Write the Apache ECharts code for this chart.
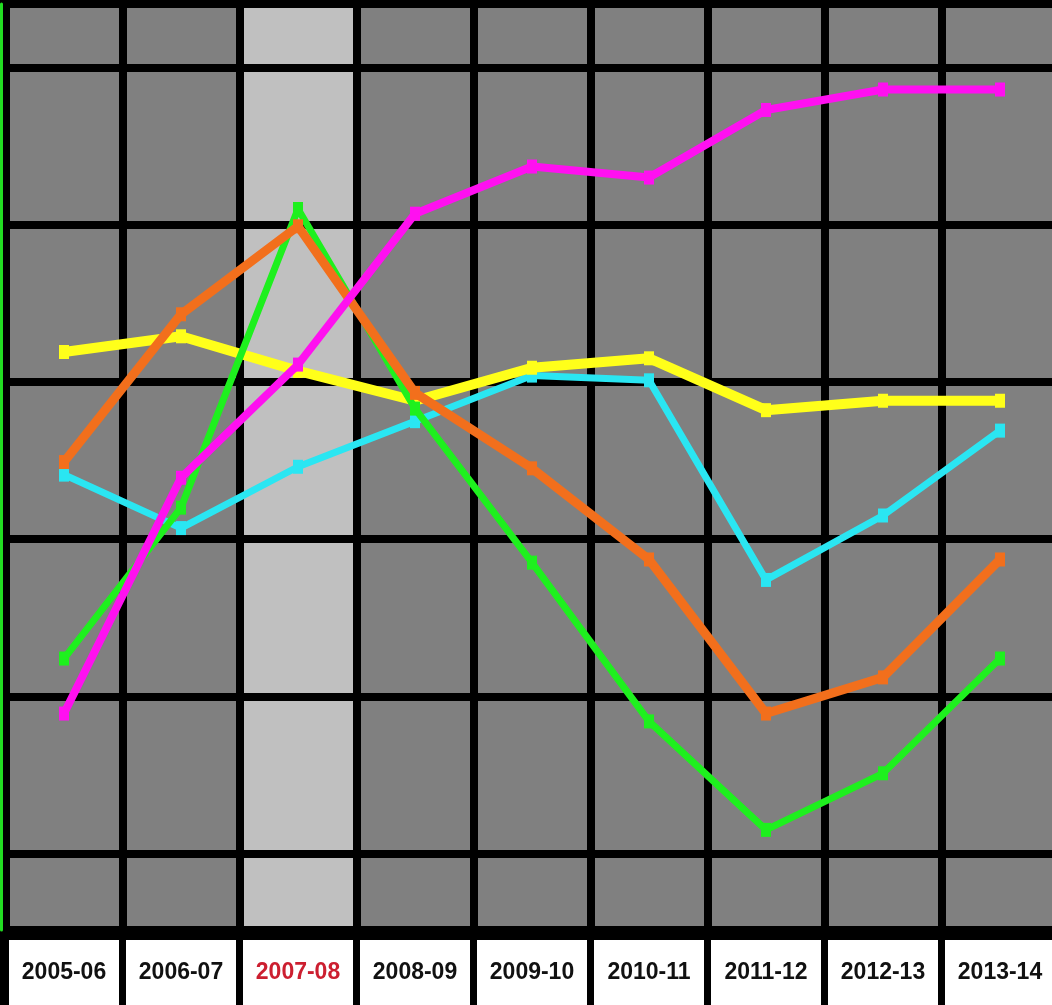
<!DOCTYPE html>
<html>
<head>
<meta charset="utf-8">
<script src="https://cdn.jsdelivr.net/npm/echarts@6/dist/echarts.min.js"></script>
<style>
html,body{margin:0;padding:0;background:#000;overflow:hidden;}
#main{width:1064px;height:1005px;}
</style>
</head>
<body>
<div id="main"></div>
<script>
var categories = ['2005-06','2006-07','2007-08','2008-09','2009-10','2010-11','2011-12','2012-13','2013-14'];
var highlightCategory = '2007-08';
var magentaValues = [8.9, 23.9, 31.1, 40.7, 43.7, 43.0, 47.3, 48.6, 48.6];
var yellowValues  = [31.9, 32.9, 30.7, 28.8, 30.9, 31.5, 28.2, 28.8, 28.8];
var cyanValues    = [24.1, 20.7, 24.6, 27.5, 30.4, 30.1, 17.4, 21.5, 26.9];
var orangeValues  = [24.9, 34.3, 39.9, 29.3, 24.5, 18.7, 8.9, 11.2, 18.7];
var greenValues   = [12.4, 22.0, 41.0, 28.3, 18.5, 8.4, 1.5, 5.1, 12.4];
var yMin = -4.87;
var yMax = 54.04;

var chart = echarts.init(document.getElementById('main'), null, {renderer:'canvas'});

function lineSeries(name, data, color, width, z) {
  return {
    name: name,
    type: 'line',
    data: data,
    z: z,
    symbol: 'rect',
    symbolSize: [10, 14],
    showAllSymbol: true,
    itemStyle: {color: color},
    lineStyle: {color: color, width: width},
    emphasis: {disabled: true},
    animation: false
  };
}

var areaColors = categories.map(function (c) { return c === highlightCategory ? '#c0c0c0' : '#808080'; });

var option = {
  backgroundColor: '#000',
  animation: false,
  grid: {left: 5.5, width: 1053, top: 4, bottom: 75, containLabel: false},
  xAxis: {
    type: 'category',
    data: categories,
    boundaryGap: true,
    z: 0,
    axisLine: {show: false},
    axisTick: {show: false},
    splitArea: {show: true, interval: 0, areaStyle: {color: areaColors}},
    splitLine: {show: true, interval: 0, lineStyle: {color: '#000', width: 8}},
    axisLabel: {
      interval: 0,
      margin: 10,
      backgroundColor: '#fff',
      width: 110,
      height: 65,
      lineHeight: 65,
      align: 'center',
      verticalAlign: 'top',
      fontFamily: '"Liberation Sans", Arial, sans-serif',
      fontWeight: 'bold',
      fontSize: 23,
      overflow: 'none',
      color: function (value) { return value === highlightCategory ? '#cc1f30' : '#111'; }
    }
  },
  yAxis: {
    type: 'value',
    min: yMin,
    max: yMax,
    splitNumber: 6,
    z: 1,
    offset: 4,
    axisLine: {show: true, lineStyle: {color: '#22dd22', width: 3}},
    axisTick: {show: false},
    axisLabel: {show: false},
    splitLine: {show: true, lineStyle: {color: '#000', width: 8}}
  },
  series: [
    lineSeries('cyan', cyanValues, '#2ae6f2', 7, 2),
    lineSeries('yellow', yellowValues, '#ffff1a', 10, 3),
    lineSeries('green', greenValues, '#1ef01e', 7, 4),
    lineSeries('orange', orangeValues, '#f26f1c', 9, 5),
    lineSeries('magenta', magentaValues, '#ff10f0', 8, 6)
  ]
};
chart.setOption(option);
</script>
</body>
</html>
